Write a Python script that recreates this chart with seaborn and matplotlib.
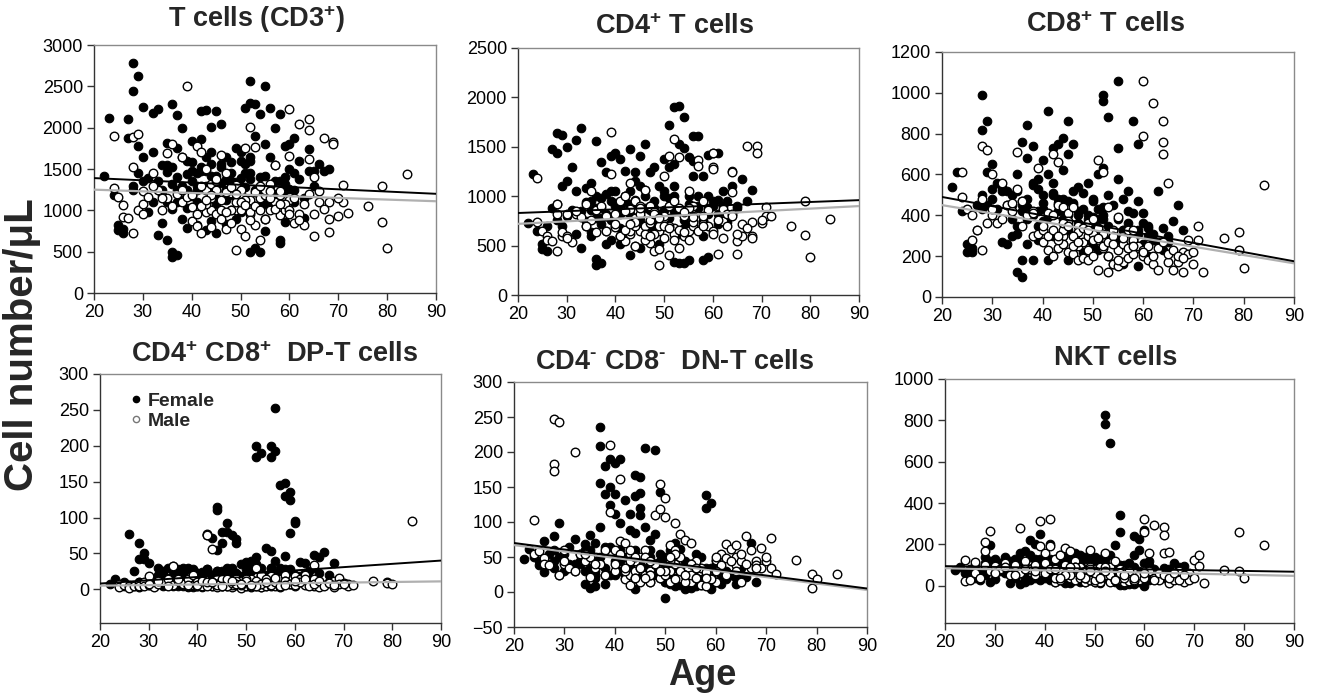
import matplotlib
matplotlib.use("Agg")
import matplotlib.pyplot as plt
from matplotlib.lines import Line2D
import seaborn as sns

# ---------------- data ----------------
F_AGE = [22, 23, 24, 25, 25, 26, 26, 27, 27, 28,
         28, 28, 29, 29, 29, 30, 30, 31, 31, 32,
         32, 33, 33, 34, 34, 35, 35, 35, 36, 36,
         36, 36, 37, 37, 37, 37, 38, 38, 38, 39,
         39, 39, 40, 40, 40, 41, 41, 41, 42, 42,
         42, 43, 43, 43, 44, 44, 44, 44, 45, 45,
         45, 45, 46, 46, 46, 47, 47, 47, 48, 48,
         48, 49, 49, 49, 50, 50, 50, 51, 51, 51,
         52, 52, 52, 52, 53, 53, 53, 54, 54, 54,
         55, 55, 55, 56, 56, 56, 57, 57, 58, 58,
         58, 59, 59, 59, 60, 60, 61, 61, 62, 63,
         64, 64, 65, 66, 67, 68, 44, 52, 56, 58,
         33, 34, 35, 36, 37, 38, 39, 40, 41, 42,
         43, 44, 45, 46, 47, 48, 49, 50, 51, 52,
         53, 54, 55, 56, 57, 58, 59, 60, 61, 62,
         35, 37, 39, 41, 43, 45, 47, 49, 51, 53,
         36, 38, 40, 42, 44, 46, 48, 50, 52, 54,
         55, 57, 59, 61, 63, 65, 30, 32, 34, 28]

M_AGE = [24, 24, 25, 26, 26, 27, 28, 28, 28, 29,
         29, 30, 30, 31, 32, 33, 34, 35, 35, 36,
         37, 38, 38, 39, 39, 40, 40, 41, 41, 42,
         42, 43, 43, 43, 44, 44, 44, 45, 45, 46,
         46, 47, 47, 48, 48, 49, 49, 49, 50, 50,
         51, 51, 51, 52, 52, 53, 53, 53, 54, 54,
         55, 55, 56, 56, 57, 57, 58, 59, 60, 60,
         60, 61, 62, 62, 63, 64, 64, 64, 65, 65,
         66, 67, 68, 68, 69, 69, 70, 71, 71, 72,
         76, 79, 79, 80, 84, 47, 50, 52, 55, 58,
         40, 41, 42, 43, 44, 45, 46, 47, 48, 49,
         50, 51, 52, 53, 54, 55, 56, 57, 58, 59,
         60, 61, 62, 63, 64, 65, 66, 67, 68, 70,
         42, 44, 46, 48, 50, 52, 54, 56, 58, 60,
         30, 32, 34, 36, 38, 43, 45, 47, 49, 51]

F_CD3 = [1420, 2120, 1180, 820, 760, 780, 720, 2110, 1870, 2780,
         2440, 1300, 2620, 1780, 1450, 2250, 1650, 1390, 980, 2180,
         1700, 2220, 700, 1240, 850, 1820, 1460, 640, 2290, 1520,
         430, 490, 2150, 1750, 1100, 460, 1990, 1300, 900, 1440,
         1030, 790, 1840, 1590, 1170, 1450, 1250, 820, 2200, 1860,
         1280, 2210, 1650, 760, 2010, 1560, 1150, 870, 2200, 1420,
         1080, 720, 2050, 1330, 950, 1640, 1250, 830, 1580, 1350,
         1010, 1750, 1200, 900, 1710, 1390, 980, 2240, 1560, 1150,
         2560, 2300, 1450, 500, 2290, 1900, 550, 2170, 1400, 490,
         2510, 1800, 750, 2240, 1650, 1030, 2000, 1200, 2160, 600,
         1350, 1780, 1400, 860, 1800, 1260, 1880, 1100, 1600, 910,
         1740, 1470, 1480, 1560, 1480, 1500, 1700, 1600, 1120, 640,
         1350, 1180, 1550, 1020, 1400, 1650, 1250, 1480, 1100, 1520,
         1300, 1420, 1250, 1560, 1120, 1450, 1340, 1600, 1280, 1380,
         1250, 1050, 1420, 1300, 1550, 1180, 1320, 1500, 1240, 1380,
         1100, 1250, 1600, 1300, 1480, 1150, 1380, 1220, 1450, 1050,
         1320, 1120, 1360, 1480, 1250, 1530, 1180, 1300, 1650, 1200,
         1080, 1350, 1250, 1450, 1150, 1300, 1350, 1100, 1550, 1250]
M_CD3 = [1900, 1270, 1160, 1060, 920, 910, 1890, 1520, 730, 1920,
         1010, 1230, 1080, 1160, 1450, 1250, 1010, 1690, 1150, 1800,
         1200, 1650, 1100, 2510, 1160, 1040, 870, 810, 1780, 1700,
         730, 1250, 980, 1500, 1320, 1000, 800, 1240, 950, 1670,
         1120, 1450, 780, 1210, 850, 1310, 1000, 520, 1180, 770,
         1760, 1060, 690, 2010, 950, 1770, 1220, 820, 1150, 640,
         1180, 900, 1320, 1000, 1550, 1100, 940, 1000, 2230, 1660,
         1120, 850, 2040, 950, 820, 2100, 1970, 1620, 1400, 690,
         1230, 1880, 1100, 740, 1830, 1800, 930, 1310, 1100, 970,
         1050, 1300, 860, 550, 1440, 1230, 1010, 1130, 1240, 1180,
         1180, 950, 1300, 1080, 1150, 1350, 900, 1220, 1000, 1100,
         1250, 1120, 980, 1050, 1300, 900, 1150, 1020, 1230, 1080,
         1000, 1150, 880, 1080, 1200, 950, 1100, 1020, 900, 1150,
         1050, 1180, 1000, 1280, 1100, 880, 1000, 1230, 1080, 950,
         950, 1300, 1150, 1050, 1250, 1120, 1380, 980, 1200, 1060]

F_CD4 = [730, 1220, 650, 520, 470, 450, 700, 1480, 880, 1640,
         1440, 920, 1620, 1100, 700, 1500, 1150, 1300, 860, 1570,
         1050, 1690, 480, 1080, 750, 1130, 860, 600, 1560, 1000,
         360, 300, 1350, 980, 720, 320, 1240, 820, 520, 1410,
         950, 560, 1440, 1050, 700, 1380, 880, 520, 1260, 940,
         600, 1480, 1050, 400, 1240, 960, 720, 500, 1410, 1100,
         800, 480, 1530, 1000, 700, 1250, 900, 600, 1300, 880,
         650, 1100, 820, 520, 1380, 1000, 700, 1720, 1300, 900,
         1900, 1330, 1000, 330, 1910, 1530, 320, 1800, 1490, 320,
         1400, 1000, 350, 1610, 1200, 700, 1610, 900, 1200, 350,
         750, 1420, 1000, 380, 1440, 900, 1440, 720, 1050, 950,
         1260, 1100, 900, 1170, 950, 1060, 1150, 850, 1360, 600,
         850, 700, 950, 780, 880, 1020, 760, 900, 680, 1000,
         820, 920, 760, 880, 700, 950, 820, 1050, 780, 900,
         850, 680, 920, 800, 1000, 750, 880, 950, 820, 900,
         640, 780, 1050, 820, 920, 700, 860, 740, 980, 620,
         880, 650, 930, 1000, 780, 1060, 720, 860, 1100, 760,
         700, 880, 820, 960, 740, 880, 800, 620, 940, 760]
M_CD4 = [1180, 740, 650, 600, 560, 550, 920, 820, 450, 600,
         640, 600, 820, 540, 820, 790, 920, 1050, 760, 860,
         900, 800, 650, 1650, 1220, 820, 690, 600, 950, 1000,
         550, 1130, 870, 620, 950, 780, 500, 900, 650, 1060,
         700, 900, 530, 840, 450, 650, 300, 470, 1200, 580,
         1410, 900, 400, 1580, 950, 1400, 880, 480, 800, 600,
         1050, 650, 900, 700, 1370, 1310, 950, 860, 1440, 1300,
         1280, 420, 870, 750, 820, 1250, 1040, 820, 550, 410,
         600, 1510, 740, 600, 1510, 1440, 730, 890, 800, 800,
         700, 950, 610, 380, 770, 730, 780, 680, 880, 720,
         720, 600, 850, 650, 700, 820, 560, 760, 620, 700,
         800, 700, 620, 660, 840, 560, 740, 650, 800, 700,
         650, 760, 580, 700, 800, 620, 720, 680, 580, 760,
         660, 740, 620, 820, 700, 560, 640, 790, 700, 620,
         580, 850, 700, 640, 800, 720, 880, 600, 780, 680]

F_CD8 = [540, 610, 420, 260, 220, 240, 220, 330, 450, 990,
         820, 500, 860, 610, 450, 650, 530, 560, 430, 270,
         540, 520, 260, 500, 300, 600, 310, 120, 760, 450,
         100, 180, 840, 680, 380, 260, 740, 560, 180, 580,
         420, 280, 670, 500, 370, 910, 600, 180, 730, 560,
         300, 750, 480, 240, 780, 620, 420, 260, 860, 700,
         470, 180, 750, 520, 300, 540, 400, 260, 510, 350,
         220, 560, 400, 280, 480, 350, 250, 600, 430, 230,
         990, 960, 630, 300, 880, 500, 200, 450, 320, 160,
         1060, 730, 580, 480, 330, 160, 520, 240, 860, 410,
         270, 750, 470, 150, 410, 260, 340, 200, 280, 520,
         340, 230, 270, 370, 450, 330, 320, 380, 290, 300,
         450, 380, 520, 420, 480, 550, 350, 460, 400, 510,
         420, 480, 400, 450, 360, 430, 380, 470, 340, 400,
         350, 300, 380, 330, 420, 280, 330, 360, 300, 310,
         350, 440, 530, 390, 460, 330, 420, 300, 380, 280,
         470, 400, 430, 500, 380, 460, 320, 390, 440, 300,
         280, 360, 310, 350, 270, 300, 480, 520, 450, 430]
M_CD8 = [610, 490, 430, 400, 280, 330, 740, 480, 230, 720,
         360, 600, 400, 360, 560, 450, 420, 710, 530, 470,
         400, 420, 300, 630, 310, 330, 270, 410, 230, 700,
         200, 660, 450, 240, 440, 300, 260, 410, 220, 440,
         210, 350, 180, 300, 190, 360, 230, 180, 380, 280,
         670, 340, 130, 610, 240, 440, 200, 120, 330, 160,
         390, 150, 300, 170, 330, 190, 330, 240, 1060, 790,
         200, 180, 950, 160, 130, 860, 760, 700, 560, 170,
         130, 170, 220, 120, 280, 210, 160, 350, 280, 120,
         290, 320, 230, 140, 550, 250, 200, 270, 180, 210,
         350, 300, 400, 280, 330, 370, 250, 320, 270, 300,
         310, 280, 250, 270, 300, 230, 260, 240, 280, 250,
         230, 250, 200, 240, 270, 210, 230, 200, 190, 220,
         330, 360, 300, 340, 280, 310, 260, 290, 250, 220,
         430, 380, 460, 350, 410, 300, 350, 270, 330, 290]

F_DP = [8, 14, 5, 4, 10, 77, 6, 26, 4, 65,
        42, 10, 50, 42, 8, 36, 6, 14, 4, 30,
        12, 25, 5, 30, 8, 32, 15, 4, 28, 10,
        5, 20, 30, 15, 4, 22, 28, 12, 3, 20,
        8, 3, 22, 10, 4, 24, 12, 3, 28, 75,
        10, 72, 20, 4, 115, 110, 55, 15, 80, 65,
        25, 5, 93, 80, 20, 75, 30, 6, 70, 65,
        20, 35, 18, 4, 38, 20, 5, 40, 25, 8,
        200, 185, 45, 10, 190, 30, 3, 58, 20, 5,
        200, 185, 53, 253, 192, 15, 145, 30, 148, 130,
        47, 135, 125, 78, 95, 92, 38, 10, 36, 25,
        48, 30, 45, 52, 20, 37, 25, 30, 40, 28,
        20, 12, 25, 8, 18, 30, 10, 22, 15, 28,
        12, 25, 18, 30, 10, 22, 15, 28, 12, 35,
        20, 15, 30, 18, 25, 12, 28, 20, 15, 22,
        10, 18, 28, 12, 20, 15, 25, 10, 30, 18,
        22, 8, 18, 25, 14, 28, 10, 20, 32, 15,
        30, 20, 25, 18, 14, 22, 12, 20, 16, 10]
M_DP = [7, 3, 6, 5, 2, 4, 8, 3, 5, 10,
        4, 18, 6, 3, 8, 10, 14, 32, 6, 12,
        8, 14, 4, 20, 6, 10, 4, 12, 5, 77,
        75, 56, 12, 4, 14, 8, 3, 10, 5, 12,
        4, 10, 3, 14, 6, 12, 5, 2, 10, 4,
        8, 3, 14, 30, 6, 20, 8, 3, 12, 5,
        18, 4, 10, 5, 14, 3, 20, 8, 18, 4,
        10, 15, 20, 6, 10, 34, 14, 4, 8, 3,
        6, 10, 3, 12, 16, 8, 9, 7, 4, 6,
        12, 10, 9, 8, 95, 6, 14, 4, 9, 11,
        6, 12, 4, 10, 8, 14, 5, 9, 12, 6,
        10, 4, 12, 8, 15, 6, 10, 4, 12, 8,
        6, 10, 14, 4, 8, 12, 5, 9, 6, 8,
        10, 6, 14, 8, 12, 4, 10, 16, 6, 12,
        8, 12, 5, 14, 6, 10, 4, 12, 8, 6]

F_DN = [47, 62, 50, 38, 45, 73, 28, 40, 55, 80,
        60, 35, 98, 50, 25, 45, 30, 40, 65, 76,
        30, 55, 40, 68, 12, 82, 35, 6, 70, 25,
        8, 45, 236, 208, 156, 93, 180, 140, 12, 190,
        150, 125, 185, 140, 112, 190, 98, 30, 132, 50,
        25, 112, 88, 40, 167, 137, 60, 5, 165, 142,
        120, 110, 206, 93, 35, 75, 45, 15, 203, 83,
        30, 143, 55, 20, 50, -8, 15, 60, 35, 12,
        70, 40, 20, 8, 62, 35, 10, 45, 25, 5,
        40, 18, 6, 55, 30, 8, 50, 20, 138, 120,
        10, 127, 35, 5, 40, 15, 30, 12, 18, 25,
        20, 12, 35, 22, 70, 15, 85, 55, 40, 30,
        45, 30, 60, 20, 50, 35, 65, 25, 45, 30,
        55, 20, 40, 30, 60, 25, 45, 35, 20, 50,
        30, 15, 40, 25, 10, 35, 20, 45, 25, 30,
        55, 40, 25, 60, 35, 20, 50, 30, 45, 15,
        30, 65, 45, 20, 55, 30, 40, 15, 35, 25,
        20, 30, 15, 35, 25, 18, 55, 40, 60, 45]
M_DN = [103, 55, 58, 48, 40, 38, 247, 183, 173, 243,
        24, 60, 40, 35, 200, 55, 45, 50, 22, 35,
        40, 60, 25, 210, 115, 60, 30, 162, 73, 70,
        18, 55, 25, 10, 30, 20, 45, 50, 15, 25,
        60, 30, 15, 110, 40, 155, 118, 20, 135, 107,
        67, 30, 15, 98, 40, 83, 50, 20, 75, 25,
        70, 15, 45, 20, 30, 10, 25, 20, 46, 15,
        30, 55, 68, 48, 62, 67, 50, 38, 45, 15,
        80, 35, 45, 38, 63, 35, 44, 77, 35, 26,
        46, 26, 6, 18, 26, 25, 30, 18, 25, 8,
        40, 55, 30, 45, 20, 35, 50, 25, 40, 30,
        25, 45, 60, 30, 15, 40, 20, 35, 28, 18,
        50, 38, 25, 45, 30, 55, 40, 60, 35, 50,
        35, 50, 20, 40, 30, 55, 25, 35, 20, 30,
        45, 30, 55, 40, 25, 60, 35, 45, 30, 50]

F_NKT = [75, 90, 60, 50, 80, 40, 100, 30, 60, 140,
         90, 50, 195, 120, 20, 130, 35, 110, 70, 140,
         60, 120, 15, 130, 40, 160, 60, 10, 170, 90,
         40, 20, 220, 150, 80, 30, 200, 100, 40, 250,
         130, 30, 140, 80, 40, 200, 100, 30, 120, 60,
         20, 150, 80, 30, 140, 90, 40, 15, 130, 70,
         30, 15, 160, 90, 30, 150, 80, 20, 140, 60,
         20, 130, 70, 30, 140, 80, 20, 130, 60, 15,
         825, 780, 120, 40, 690, 150, 30, 195, 70, 20,
         340, 260, 5, 100, 40, 5, 110, 10, 240, 150,
         60, 225, 175, 20, 270, 0, 100, 30, 70, 60,
         85, 40, 70, 110, 90, 95, 110, 60, 80, 10,
         100, 60, 120, 80, 140, 90, 110, 70, 130, 50,
         90, 120, 60, 100, 80, 130, 70, 110, 60, 90,
         80, 50, 100, 40, 70, 90, 60, 110, 40, 80,
         120, 80, 100, 60, 130, 70, 110, 50, 90, 40,
         70, 130, 90, 110, 60, 100, 80, 120, 50, 90,
         60, 100, 70, 120, 50, 80, 90, 130, 70, 110]
M_NKT = [125, 25, 30, 115, 60, 40, 210, 170, 100, 265,
         70, 95, 60, 80, 110, 50, 100, 280, 60, 120,
         80, 100, 50, 315, 190, 160, 110, 325, 190, 130,
         20, 150, 60, 30, 185, 100, 50, 170, 40, 120,
         30, 90, 40, 70, 20, 175, 90, 30, 80, 20,
         90, 40, 20, 160, 50, 90, 40, 20, 120, 30,
         80, 30, 70, 20, 50, 25, 60, 30, 325, 260,
         50, 160, 295, 40, 30, 285, 245, 160, 165, 15,
         30, 70, 40, 20, 60, 30, 125, 150, 95, 15,
         75, 260, 70, 40, 195, 60, 30, 50, 40, 25,
         60, 80, 40, 70, 100, 50, 90, 60, 40, 80,
         70, 40, 90, 50, 30, 60, 40, 70, 30, 50,
         40, 70, 30, 60, 50, 40, 60, 30, 50, 40,
         80, 50, 90, 40, 60, 70, 30, 50, 40, 60,
         60, 90, 50, 80, 70, 40, 90, 50, 70, 40]

# regression lines (value at age 20 and at age 90)
LINE_X = [20, 90]
F_LINE_CD3, M_LINE_CD3 = [1390, 1200], [1250, 1110]
F_LINE_CD4, M_LINE_CD4 = [830, 960], [720, 900]
F_LINE_CD8, M_LINE_CD8 = [490, 175], [450, 165]
F_LINE_DP, M_LINE_DP = [8, 40], [5, 11]
F_LINE_DN, M_LINE_DN = [70, 5], [67, 3]
F_LINE_NKT, M_LINE_NKT = [95, 68], [85, 48]

TITLES = [r"T cells (CD3$^{+}$)", r"CD4$^{+}$ T cells", r"CD8$^{+}$ T cells",
          r"CD4$^{+}$ CD8$^{+}$  DP-T cells", r"CD4$^{\text{-}}$ CD8$^{\text{-}}$  DN-T cells",
          "NKT cells"]
X_TICKS = [20, 30, 40, 50, 60, 70, 80, 90]
Y_TICKS = [[0, 500, 1000, 1500, 2000, 2500, 3000],
           [0, 500, 1000, 1500, 2000, 2500],
           [0, 200, 400, 600, 800, 1000, 1200],
           [0, 50, 100, 150, 200, 250, 300],
           [-50, 0, 50, 100, 150, 200, 250, 300],
           [0, 200, 400, 600, 800, 1000]]
LEGEND_LABELS = ["Female", "Male"]

# ---------------- style ----------------
sns.set_theme(style="ticks")
plt.rcParams["font.family"] = ["Liberation Sans", "DejaVu Sans"]
plt.rcParams["mathtext.fontset"] = "custom"
plt.rcParams["mathtext.rm"] = "Liberation Sans:bold"
plt.rcParams["mathtext.bf"] = "Liberation Sans:bold"
plt.rcParams["mathtext.it"] = "Liberation Sans:bold"
plt.rcParams["mathtext.sf"] = "Liberation Sans:bold"

W, H = 1319, 697
fig = plt.figure(figsize=(W / 100, H / 100), dpi=100)

# pixel boxes: left, top, right, bottom
boxes = [(94, 45, 436, 293), (518, 48, 859, 295), (942, 52, 1294, 297),
         (100, 374, 441, 623), (514, 382, 867, 627), (945, 379, 1294, 623)]
# title centre x and baseline y in pixels
title_pos = [(256, 27), (675, 34), (1106, 32), (275, 362), (675, 369), (1116, 365)]
ylims = [(0, 3000), (0, 2500), (0, 1200), (-47, 300), (-50, 300), (-180, 1000)]

panels = [(F_CD3, M_CD3, F_LINE_CD3, M_LINE_CD3),
          (F_CD4, M_CD4, F_LINE_CD4, M_LINE_CD4),
          (F_CD8, M_CD8, F_LINE_CD8, M_LINE_CD8),
          (F_DP, M_DP, F_LINE_DP, M_LINE_DP),
          (F_DN, M_DN, F_LINE_DN, M_LINE_DN),
          (F_NKT, M_NKT, F_LINE_NKT, M_LINE_NKT)]

for i, (fv, mv, fl, ml) in enumerate(panels):
    l, t, r, b = boxes[i]
    ax = fig.add_axes([l / W, 1 - b / H, (r - l) / W, (b - t) / H])
    sns.scatterplot(x=F_AGE, y=fv, ax=ax, color="black", edgecolor="black",
                    s=38, linewidth=0.8, legend=False, zorder=2)
    sns.scatterplot(x=M_AGE, y=mv, ax=ax, color="white", edgecolor="black",
                    s=38, linewidth=1.0, legend=False, zorder=3)
    sns.lineplot(x=LINE_X, y=ml, ax=ax, color="#b0b0b0", linewidth=1.6, zorder=4)
    sns.lineplot(x=LINE_X, y=fl, ax=ax, color="black", linewidth=1.4, zorder=5)
    ax.set_xlim(20, 90)
    ax.set_ylim(*ylims[i])
    ax.set_xticks(X_TICKS)
    ax.set_yticks(Y_TICKS[i])
    ax.tick_params(axis="both", direction="out", length=5, width=1, color="#333333",
                   labelsize=13, pad=3, labelcolor="black")
    for side in ["left", "bottom"]:
        ax.spines[side].set_color("#333333")
        ax.spines[side].set_linewidth(1.0)
    for side in ["top", "right"]:
        ax.spines[side].set_visible(True)
        ax.spines[side].set_color("#8a8a8a")
        ax.spines[side].set_linewidth(1.0)
    ax.set_xlabel("")
    ax.set_ylabel("")
    tx, ty = title_pos[i]
    fig.text(tx / W, 1 - ty / H, TITLES[i], ha="center", va="baseline",
             fontsize=19.5, fontweight="bold")
    if i == 3:
        handles = [Line2D([], [], marker="o", ls="", mfc="black", mec="black", ms=4.5),
                   Line2D([], [], marker="o", ls="", mfc="white", mec="#777777", ms=4.5)]
        ax.legend(handles, LEGEND_LABELS, loc="upper left", bbox_to_anchor=(0.06, 0.965),
                  frameon=False, handlelength=0.6, handletextpad=0.3, labelspacing=0.1,
                  borderpad=0, prop={"weight": "bold", "size": 14})

fig.text(22 / W, 1 - 345 / H, "Cell number/\u03bcL", rotation=90, ha="center", va="center",
         fontsize=29, fontweight="bold")
fig.text(702 / W, 1 - 685 / H, "Age", ha="center", va="baseline", fontsize=26,
         fontweight="bold")

fig.savefig("out.png", dpi=100)
